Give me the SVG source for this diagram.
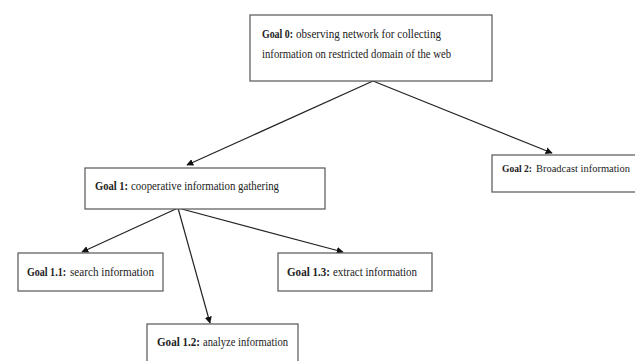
<svg xmlns="http://www.w3.org/2000/svg" width="635" height="361" viewBox="0 0 635 361">
<defs>
<marker id="ah" viewBox="0 0 10 10" refX="9" refY="5" markerWidth="7" markerHeight="7" orient="auto" markerUnits="userSpaceOnUse">
<path d="M0,0 L10,5 L0,10 z" fill="#111"/>
</marker>
<style>
.box{fill:#fff;stroke:#555;stroke-width:1.2}
.t{font-family:"Liberation Serif","Times New Roman",serif;font-size:12px;fill:#222}
.s{font-size:10.5px}
.b{font-weight:bold}
.c{stroke:#222;stroke-width:1.2;fill:none;marker-end:url(#ah)}
</style>
</defs>
<rect width="635" height="361" fill="#fff"/>
<g id="connectors">
<line class="c" x1="373" y1="81" x2="187" y2="165"/>
<line class="c" x1="373" y1="81" x2="552" y2="153"/>
<line class="c" x1="178" y1="208" x2="82" y2="252"/>
<line class="c" x1="178" y1="208" x2="210" y2="323"/>
<line class="c" x1="178" y1="208" x2="343" y2="252"/>
</g>
<g id="goal0">
<rect class="box" x="250" y="15" width="242" height="66"/>
<text class="t b" x="262" y="38" textLength="31" lengthAdjust="spacingAndGlyphs">Goal 0:</text>
<text class="t" x="296" y="38" textLength="145" lengthAdjust="spacingAndGlyphs">observing network for collecting</text>
<text class="t" x="262" y="58" textLength="189" lengthAdjust="spacingAndGlyphs">information on restricted domain of the web</text>
</g>
<g id="goal1">
<rect class="box" x="85" y="168" width="240" height="41"/>
<text class="t b" x="95" y="190" textLength="33" lengthAdjust="spacingAndGlyphs">Goal 1:</text>
<text class="t" x="131" y="190" textLength="148" lengthAdjust="spacingAndGlyphs">cooperative information gathering</text>
</g>
<g id="goal2">
<rect class="box" x="492" y="155" width="150" height="37"/>
<text class="t s b" x="502" y="172" textLength="30" lengthAdjust="spacingAndGlyphs">Goal 2:</text>
<text class="t s" x="536" y="172" textLength="94" lengthAdjust="spacingAndGlyphs">Broadcast information</text>
</g>
<g id="goal11">
<rect class="box" x="18" y="253" width="145" height="38"/>
<text class="t b" x="27" y="276" textLength="39" lengthAdjust="spacingAndGlyphs">Goal 1.1:</text>
<text class="t" x="70" y="276" textLength="84" lengthAdjust="spacingAndGlyphs">search information</text>
</g>
<g id="goal13">
<rect class="box" x="278" y="253" width="154" height="38"/>
<text class="t b" x="287" y="276" textLength="43" lengthAdjust="spacingAndGlyphs">Goal 1.3:</text>
<text class="t" x="333" y="276" textLength="84" lengthAdjust="spacingAndGlyphs">extract information</text>
</g>
<g id="goal12">
<rect class="box" x="147" y="324" width="151" height="40"/>
<text class="t b" x="157" y="346" textLength="43" lengthAdjust="spacingAndGlyphs">Goal 1.2:</text>
<text class="t" x="203" y="346" textLength="85" lengthAdjust="spacingAndGlyphs">analyze information</text>
</g>
</svg>
